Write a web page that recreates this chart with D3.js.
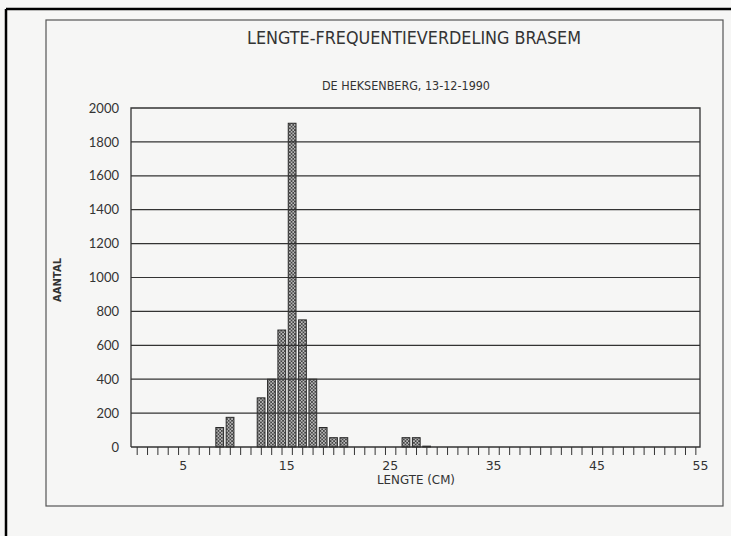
<!DOCTYPE html>
<html>
<head>
<meta charset="utf-8">
<script src="https://cdn.jsdelivr.net/npm/d3@7"></script>
<style>
  body { margin: 0; background: #f6f6f5; }
  svg { display: block; }
</style>
</head>
<body>
<svg id="chart" width="731" height="536"></svg>
<script>
// lengte (cm) en aantal vissen per lengteklasse
const lengths = [8, 9, 12, 13, 14, 15, 16, 17, 18, 19, 20, 26, 27, 28];
const counts = [115, 175, 290, 400, 690, 1910, 750, 400, 115, 55, 55, 55, 55, 5];
const xLabels = [5, 15, 25, 35, 45, 55];
const yTicks = [0, 200, 400, 600, 800, 1000, 1200, 1400, 1600, 1800, 2000];

const svg = d3.select("#chart");
const ink = "#333";

// black scan border
svg.append("line").attr("x1", 6).attr("y1", 9).attr("x2", 731).attr("y2", 9)
    .attr("stroke", "#000").attr("stroke-width", 2.5);
svg.append("line").attr("x1", 6).attr("y1", 9).attr("x2", 6).attr("y2", 536)
    .attr("stroke", "#000").attr("stroke-width", 2.5);

// gray frame
svg.append("rect").attr("x", 46).attr("y", 20).attr("width", 677).attr("height", 486)
    .attr("fill", "none").attr("stroke", "#555").attr("stroke-width", 1.2);

// dotted fill for the bars
const defs = svg.append("defs");
const pat = defs.append("pattern").attr("id", "dots")
    .attr("patternUnits", "userSpaceOnUse").attr("width", 3.4).attr("height", 3.4);
pat.append("rect").attr("width", 3.4).attr("height", 3.4).attr("fill", "#444");
pat.append("circle").attr("cx", 0.85).attr("cy", 0.85).attr("r", 0.8).attr("fill", "#eee");
pat.append("circle").attr("cx", 2.55).attr("cy", 2.55).attr("r", 0.8).attr("fill", "#eee");

const x = d3.scaleLinear().domain([0, 55]).range([131, 700]);
const y = d3.scaleLinear().domain([0, 2000]).range([447, 108]);

// bars
svg.append("g").selectAll("rect")
    .data(lengths)
    .enter().append("rect")
    .attr("x", d => x(d + 0.2))
    .attr("width", d => x(d + 0.95) - x(d + 0.2))
    .attr("y", (d, i) => y(counts[i]))
    .attr("height", (d, i) => y(0) - y(counts[i]))
    .attr("fill", "url(#dots)")
    .attr("stroke", "#2a2a2a")
    .attr("stroke-width", 1);

// horizontal grid
svg.append("g").selectAll("line")
    .data(yTicks.filter(v => v > 0 && v < 2000))
    .enter().append("line")
    .attr("x1", x(0)).attr("x2", x(55))
    .attr("y1", d => y(d)).attr("y2", d => y(d))
    .attr("stroke", ink).attr("stroke-width", 1.2);

// plot box
svg.append("path")
    .attr("d", "M" + x(0) + "," + y(0) + "V" + y(2000) + "H" + x(55) + "V" + y(0) + "H" + x(0))
    .attr("fill", "none").attr("stroke", ink).attr("stroke-width", 1.3);

// minor ticks along the x axis
const tickPos = d3.range(0, 55).map(i => i + 0.55);
svg.append("g")
    .attr("transform", "translate(0," + y(0) + ")")
    .call(d3.axisBottom(x).tickValues(tickPos).tickSize(8).tickFormat(""))
    .call(g => g.select(".domain").remove())
    .call(g => g.selectAll("line").attr("stroke", ink).attr("stroke-width", 1));

// x labels
svg.append("g")
    .attr("transform", "translate(0," + y(0) + ")")
    .call(d3.axisBottom(x).tickValues(xLabels).tickSize(0).tickPadding(14))
    .call(g => g.select(".domain").remove())
    .call(g => g.selectAll("text")
        .attr("fill", ink)
        .style("font-family", "DejaVu Sans")
        .style("font-size", "12.5px"));

// y labels
svg.append("g")
    .attr("transform", "translate(" + x(0) + ",0)")
    .call(d3.axisLeft(y).tickValues(yTicks).tickSize(0).tickPadding(12).tickFormat(d3.format("d")))
    .call(g => g.select(".domain").remove())
    .call(g => g.selectAll("text")
        .attr("fill", ink)
        .style("font-family", "Lato")
        .style("font-size", "13px"));

// titles
svg.append("text")
    .attr("x", 414).attr("y", 44)
    .attr("text-anchor", "middle")
    .attr("textLength", 334).attr("lengthAdjust", "spacingAndGlyphs")
    .attr("fill", ink)
    .style("font-family", "DejaVu Sans")
    .style("font-size", "17px")
    .text("LENGTE-FREQUENTIEVERDELING BRASEM");

svg.append("text")
    .attr("x", 406).attr("y", 90)
    .attr("text-anchor", "middle")
    .attr("textLength", 168).attr("lengthAdjust", "spacingAndGlyphs")
    .attr("fill", ink)
    .style("font-family", "DejaVu Sans")
    .style("font-size", "13px")
    .text("DE HEKSENBERG, 13-12-1990");

svg.append("text")
    .attr("x", 416).attr("y", 484)
    .attr("text-anchor", "middle")
    .attr("textLength", 78).attr("lengthAdjust", "spacingAndGlyphs")
    .attr("fill", ink)
    .style("font-family", "DejaVu Sans")
    .style("font-size", "12px")
    .text("LENGTE (CM)");

svg.append("text")
    .attr("transform", "translate(61,280) rotate(-90)")
    .attr("text-anchor", "middle")
    .attr("fill", ink)
    .style("font-family", "DejaVu Sans")
    .style("font-size", "10px")
    .style("font-weight", "bold")
    .text("AANTAL");
</script>
</body>
</html>
